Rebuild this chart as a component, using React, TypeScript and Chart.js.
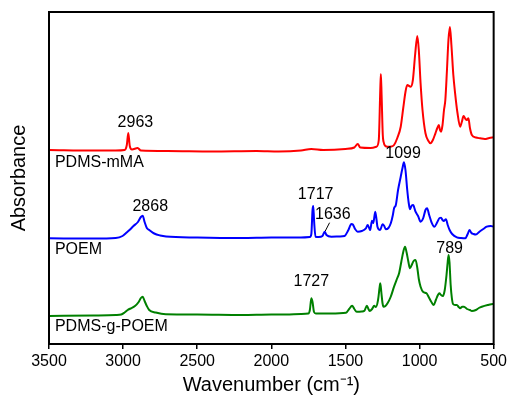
import React, { useEffect, useRef } from "react";
import { Chart, registerables } from "chart.js";

Chart.register(...registerables);

// Wavenumber (cm-1) / absorbance (a.u., offset stacked)
const redWn = [3500, 3200, 3050, 2990, 2975, 2965, 2955, 2940, 2902, 2880, 2700, 2400, 2100, 1950, 1800, 1730, 1650, 1500, 1440, 1417, 1400, 1330, 1290, 1275, 1265, 1261, 1256, 1248, 1243, 1230, 1217, 1190, 1172, 1150, 1127, 1110, 1095, 1083, 1060, 1045, 1030, 1015, 1005, 993, 980, 960, 940, 926, 910, 893, 880, 870, 862, 855, 845, 835, 826, 815, 805, 795, 785, 772, 760, 745, 726, 715, 703, 690, 681, 670, 660, 647, 620, 591, 560, 530, 500];
const redAbs = [1.94, 1.935, 1.935, 1.94, 1.99, 2.11, 1.98, 1.945, 1.96, 1.935, 1.93, 1.925, 1.93, 1.925, 1.935, 1.95, 1.94, 1.95, 1.965, 2.0, 1.965, 1.96, 1.973, 2.04, 2.54, 2.7, 2.49, 2.09, 2.023, 1.98, 1.973, 1.975, 1.99, 2.06, 2.173, 2.36, 2.52, 2.59, 2.573, 2.64, 2.89, 3.08, 2.94, 2.607, 2.34, 2.107, 2.03, 2.007, 2.04, 2.107, 2.16, 2.19, 2.14, 2.123, 2.19, 2.34, 2.44, 2.74, 3.04, 3.17, 2.99, 2.69, 2.507, 2.32, 2.173, 2.22, 2.28, 2.25, 2.24, 2.257, 2.16, 2.09, 2.065, 2.057, 2.05, 2.06, 2.067];

const blueWn = [3500, 3200, 3050, 3004, 2980, 2957, 2930, 2900, 2880, 2868, 2855, 2840, 2823, 2790, 2750, 2710, 2500, 2200, 2000, 1800, 1740, 1730, 1722, 1717, 1711, 1702, 1680, 1655, 1640, 1628, 1595, 1540, 1506, 1480, 1460, 1450, 1435, 1417, 1390, 1362, 1350, 1340, 1333, 1321, 1312, 1299, 1290, 1284, 1266, 1250, 1238, 1228, 1210, 1194, 1180, 1172, 1160, 1145, 1127, 1115, 1105, 1095, 1083, 1073, 1065, 1055, 1042, 1035, 1027, 1010, 993, 975, 960, 949, 935, 920, 900, 880, 865, 855, 845, 837, 822, 810, 797, 780, 748, 720, 692, 675, 663, 650, 636, 620, 596, 570, 547, 520, 500];
const blueAbs = [1.057, 1.055, 1.06, 1.08, 1.11, 1.14, 1.18, 1.22, 1.27, 1.283, 1.22, 1.16, 1.14, 1.105, 1.085, 1.075, 1.065, 1.06, 1.065, 1.065, 1.07, 1.1, 1.34, 1.38, 1.22, 1.073, 1.07, 1.08, 1.123, 1.09, 1.073, 1.075, 1.08, 1.14, 1.2, 1.195, 1.15, 1.123, 1.13, 1.157, 1.19, 1.16, 1.14, 1.233, 1.21, 1.323, 1.24, 1.173, 1.14, 1.197, 1.18, 1.147, 1.16, 1.207, 1.29, 1.357, 1.39, 1.54, 1.673, 1.76, 1.817, 1.74, 1.54, 1.41, 1.347, 1.38, 1.39, 1.36, 1.323, 1.28, 1.223, 1.26, 1.34, 1.357, 1.29, 1.22, 1.173, 1.22, 1.26, 1.263, 1.24, 1.23, 1.247, 1.19, 1.14, 1.1, 1.067, 1.06, 1.057, 1.1, 1.14, 1.11, 1.1, 1.095, 1.123, 1.15, 1.173, 1.18, 1.173];

const greenWn = [3500, 3200, 3050, 3013, 2990, 2969, 2950, 2920, 2895, 2880, 2868, 2855, 2840, 2824, 2780, 2712, 2500, 2200, 2000, 1900, 1800, 1750, 1740, 1730, 1722, 1712, 1700, 1600, 1496, 1475, 1455, 1440, 1424, 1390, 1372, 1355, 1345, 1337, 1320, 1306, 1295, 1280, 1270, 1265, 1258, 1250, 1243, 1230, 1216, 1195, 1172, 1150, 1138, 1123, 1110, 1098, 1088, 1075, 1065, 1050, 1040, 1027, 1015, 1005, 993, 975, 953, 935, 920, 904, 890, 876, 866, 855, 842, 830, 818, 810, 804, 798, 790, 782, 774, 760, 748, 736, 726, 712, 700, 680, 660, 647, 620, 600, 580, 540, 505, 500];
const greenAbs = [0.28, 0.285, 0.29, 0.295, 0.315, 0.34, 0.355, 0.38, 0.42, 0.46, 0.473, 0.43, 0.38, 0.34, 0.315, 0.297, 0.295, 0.29, 0.295, 0.295, 0.3, 0.305, 0.34, 0.457, 0.42, 0.32, 0.305, 0.305, 0.313, 0.35, 0.383, 0.35, 0.323, 0.325, 0.333, 0.383, 0.35, 0.33, 0.35, 0.383, 0.37, 0.44, 0.56, 0.607, 0.52, 0.41, 0.373, 0.38, 0.407, 0.47, 0.573, 0.66, 0.707, 0.823, 0.92, 0.973, 0.92, 0.82, 0.757, 0.8, 0.83, 0.84, 0.76, 0.65, 0.573, 0.52, 0.507, 0.46, 0.42, 0.39, 0.44, 0.49, 0.507, 0.49, 0.48, 0.54, 0.69, 0.82, 0.89, 0.82, 0.59, 0.46, 0.4, 0.39, 0.39, 0.37, 0.357, 0.373, 0.373, 0.35, 0.34, 0.33, 0.34, 0.36, 0.373, 0.39, 0.4, 0.4];

const seriesNames = ["PDMS-mMA", "POEM", "PDMS-g-POEM"];
const seriesColors = ["#ff0000", "#0000ff", "#008000"];

// Text annotations placed in data coordinates
const noteTexts = ["2963", "PDMS-mMA", "1099", "1717", "1636", "2868", "POEM", "1727", "789", "PDMS-g-POEM"];
const noteWn = [2917, 3460, 1111, 1701, 1585, 2817, 3460, 1730, 797, 3460];
const noteAbs = [2.213, 1.817, 1.907, 1.497, 1.29, 1.373, 0.94, 0.623, 0.957, 0.173];
const noteAlign = ["center", "left", "center", "center", "center", "center", "left", "center", "center", "left"];
// leader line for 1636
const leaderWn = [1607, 1636];
const leaderAbs = [1.213, 1.13];

const xTickMin = 500;
const xTickMax = 3500;
const xTickStep = 500;

const FONT = "'Liberation Sans', Arial, sans-serif";

export default function App() {
  const ref = useRef<HTMLCanvasElement | null>(null);

  useEffect(() => {
    document.body.style.margin = "0";
    const canvas = ref.current;
    if (!canvas) return;

    const toPts = (xs: number[], ys: number[]) => xs.map((x, i) => ({ x, y: ys[i] }));

    const framePlugin = {
      id: "frameAndNotes",
      afterDatasetsDraw(chart: any) {
        const { ctx, chartArea, scales } = chart;
        const sx = scales.x;
        const sy = scales.y;
        ctx.save();
        ctx.fillStyle = "#000";
        ctx.font = `16px ${FONT}`;
        ctx.textBaseline = "middle";
        noteTexts.forEach((t, i) => {
          ctx.textAlign = noteAlign[i] as CanvasTextAlign;
          ctx.fillText(t, sx.getPixelForValue(noteWn[i]), sy.getPixelForValue(noteAbs[i]));
        });
        ctx.strokeStyle = "#000";
        ctx.lineWidth = 1;
        ctx.beginPath();
        ctx.moveTo(sx.getPixelForValue(leaderWn[0]), sy.getPixelForValue(leaderAbs[0]));
        ctx.lineTo(sx.getPixelForValue(leaderWn[1]), sy.getPixelForValue(leaderAbs[1]));
        ctx.stroke();
        ctx.lineWidth = 2;
        ctx.strokeRect(chartArea.left, chartArea.top, chartArea.right - chartArea.left, chartArea.bottom - chartArea.top);
        ctx.restore();
      },
    };

    const chart = new Chart(canvas, {
      type: "line",
      data: {
        datasets: [
          { label: seriesNames[0], data: toPts(redWn, redAbs), borderColor: seriesColors[0] },
          { label: seriesNames[1], data: toPts(blueWn, blueAbs), borderColor: seriesColors[1] },
          { label: seriesNames[2], data: toPts(greenWn, greenAbs), borderColor: seriesColors[2] },
        ].map((d) => ({ ...d, borderWidth: 2, pointRadius: 0, fill: false, cubicInterpolationMode: "monotone" })),
      },
      options: {
        responsive: false,
        animation: false,
        layout: { padding: { top: 12, right: 13, left: 0, bottom: 0 } },
        plugins: { legend: { display: false }, tooltip: { enabled: false } },
        scales: {
          x: {
            type: "linear",
            reverse: true,
            min: xTickMin,
            max: xTickMax,
            ticks: {
              stepSize: xTickStep,
              color: "#000",
              font: { family: FONT, size: 16 },
              maxRotation: 0,
              padding: 3,
              callback: (v: any) => String(v),
            },
            grid: { display: true, drawOnChartArea: false, drawTicks: true, tickLength: 5, color: "#000", lineWidth: 1.5 },
            border: { display: false },
            title: {
              display: true,
              text: "Wavenumber (cm⁻¹)",
              color: "#000",
              font: { family: FONT, size: 20, lineHeight: 1 },
              padding: { top: 0, bottom: 0 },
            },
            afterFit: (axis: any) => {
              axis.height = 51;
            },
          },
          y: {
            min: 0,
            max: 3.32,
            ticks: { display: false },
            grid: { display: false },
            border: { display: false },
            title: {
              display: true,
              text: "Absorbance",
              color: "#000",
              font: { family: FONT, size: 20, lineHeight: 1 },
              padding: { top: 9, bottom: 0 },
            },
            afterFit: (axis: any) => {
              axis.width = 49;
            },
          },
        },
      },
      plugins: [framePlugin],
    } as any);

    return () => chart.destroy();
  }, []);

  return (
    <div style={{ width: 510, height: 395 }}>
      <canvas ref={ref} width={510} height={395} />
    </div>
  );
}
